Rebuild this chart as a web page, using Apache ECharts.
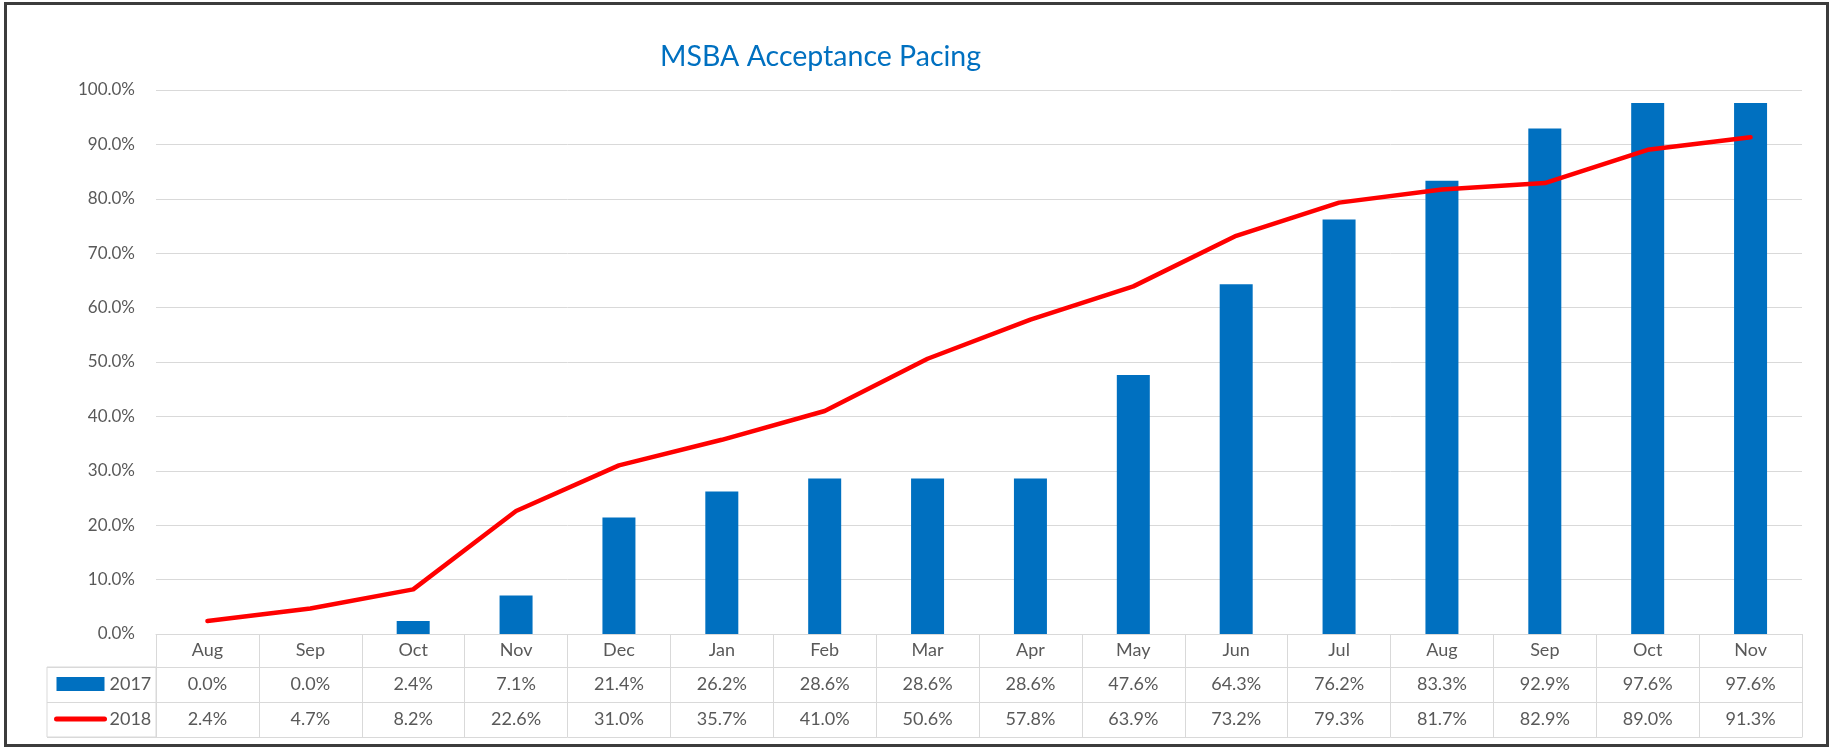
<!DOCTYPE html>
<html>
<head>
<meta charset="utf-8">
<script src="https://cdn.jsdelivr.net/npm/echarts@6/dist/echarts.min.js"></script>
<style>
  body { margin: 0; background: #fff; }
  .wrap { position: relative; width: 1831px; height: 748px; }
  #chart { width: 1831px; height: 748px; }
  .frame {
    position: absolute; left: 4px; top: 2px; width: 1819px; height: 739px;
    border: 3px solid #3c3c3c; pointer-events: none;
  }
</style>
</head>
<body>
<div class="wrap">
  <div id="chart"></div>
  <div class="frame"></div>
</div>
<script>
const months = ["Aug", "Sep", "Oct", "Nov", "Dec", "Jan", "Feb", "Mar", "Apr", "May", "Jun", "Jul", "Aug", "Sep", "Oct", "Nov"];
const pace2017 = [0.0, 0.0, 2.4, 7.1, 21.4, 26.2, 28.6, 28.6, 28.6, 47.6, 64.3, 76.2, 83.3, 92.9, 97.6, 97.6];
const pace2018 = [2.4, 4.7, 8.2, 22.6, 31.0, 35.7, 41.0, 50.6, 57.8, 63.9, 73.2, 79.3, 81.7, 82.9, 89.0, 91.3];
const seriesNames = ["2017", "2018"];

const font = "Lato, 'Noto Sans', sans-serif";
const grey = "#595959";
const cellLine = "#d9d9d9";
const pct = (v) => v.toFixed(1) + "%";

// table rows below the plot are extra category axes on the same grid
const rowAxis = (data, offset) => ({
  type: "category",
  gridIndex: 0,
  position: "bottom",
  offset: offset,
  data: data,
  axisLine: { show: true, lineStyle: { color: cellLine, width: 1 } },
  axisTick: { show: false },
  axisLabel: {
    show: data.length > 0,
    interval: 0,
    margin: 17.5,
    verticalAlign: "middle",
    color: grey,
    fontSize: 18,
    fontFamily: font,
  },
});

const chart = echarts.init(document.getElementById("chart"));
const option = {
  animation: false,
  textStyle: { fontFamily: font },
  title: {
    text: "MSBA Acceptance Pacing",
    left: 660,
    top: 42,
    padding: 0,
    textStyle: { color: "#0070C0", fontSize: 28.5, fontWeight: "normal", fontFamily: font },
  },
  legend: {
    data: [
      { name: "2017", icon: "rect" },
      // hide the circle marker, keep only the red stroke
      { name: "2018", itemStyle: { opacity: 0 }, lineStyle: { width: 5, cap: "round", color: "#ff0000" } },
    ],
    orient: "vertical",
    left: 54,
    top: 674,
    padding: 0,
    itemWidth: 48,
    itemHeight: 14,
    itemGap: 15,
    textStyle: { color: grey, fontSize: 18, lineHeight: 20, fontFamily: font },
  },
  grid: [
    { left: 156, right: 29, top: 90, bottom: 114 },
    {
      left: 47, top: 667, width: 109, height: 70,
      show: true, borderColor: cellLine, borderWidth: 1,
    },
  ],
  xAxis: [
    {
      type: "category",
      gridIndex: 0,
      position: "bottom",
      data: months,
      axisLine: { show: true, lineStyle: { color: cellLine, width: 1 } },
      axisTick: { show: true, interval: 0, length: 103, lineStyle: { color: cellLine } },
      axisLabel: {
        interval: 0,
        margin: 16.5,
        verticalAlign: "middle",
        color: grey,
        fontSize: 18,
        fontFamily: font,
      },
    },
    rowAxis(pace2017.map(pct), 33),
    rowAxis(pace2018.map(pct), 68),
    rowAxis([], 103),
    { type: "value", gridIndex: 1, show: false },
  ],
  yAxis: [
    {
      type: "value",
      gridIndex: 0,
      min: 0,
      max: 100,
      interval: 10,
      axisLine: { show: false },
      axisTick: { show: false },
      axisLabel: {
        margin: 21,
        color: grey,
        fontSize: 17,
        fontFamily: font,
        formatter: (v) => pct(v),
      },
      splitLine: { lineStyle: { color: cellLine, width: 1 } },
    },
    {
      type: "category",
      gridIndex: 1,
      data: seriesNames,
      axisLine: { show: false },
      axisTick: { show: false },
      axisLabel: { show: false },
      splitLine: { show: true, lineStyle: { color: cellLine } },
    },
  ],
  series: [
    {
      name: "2017",
      type: "bar",
      xAxisIndex: 0,
      yAxisIndex: 0,
      barWidth: 33,
      itemStyle: { color: "#0070C0" },
      data: pace2017,
    },
    {
      name: "2018",
      type: "line",
      xAxisIndex: 0,
      yAxisIndex: 0,
      symbol: "none",
      lineStyle: { color: "#ff0000", width: 4.5, cap: "round", join: "round" },
      itemStyle: { color: "#ff0000" },
      data: pace2018,
    },
  ],
};
chart.setOption(option);
</script>
</body>
</html>
